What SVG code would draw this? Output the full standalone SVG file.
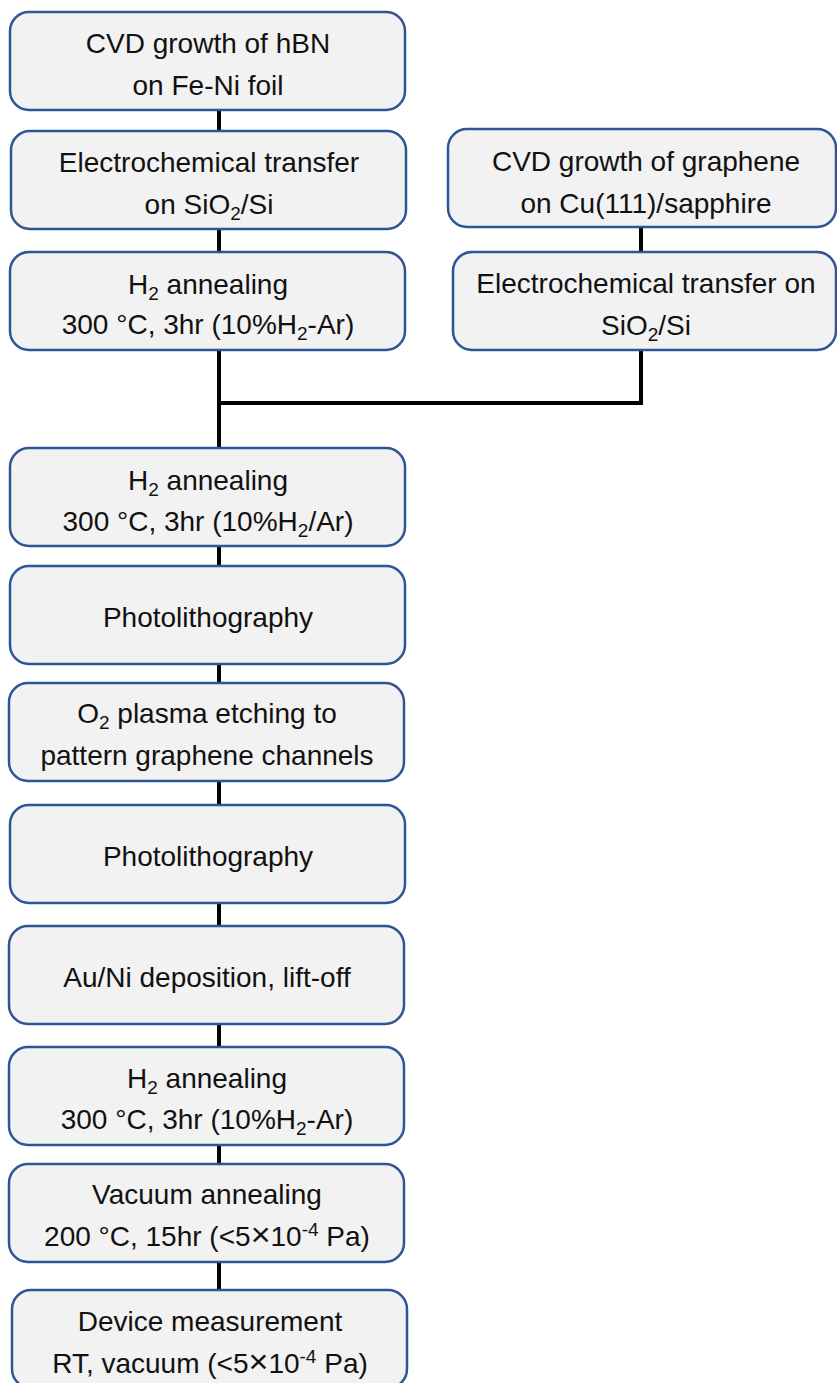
<svg xmlns="http://www.w3.org/2000/svg" width="837" height="1383" viewBox="0 0 837 1383">
  <style>
    .box { fill: #f2f2f2; stroke: #2f5597; stroke-width: 2.5; }
    .lbl { font-family: "Liberation Sans", Arial, sans-serif; font-size: 28px; fill: #111; text-anchor: middle; }
    .sub { font-size: 19px; }
    .sup { font-size: 19px; }
    .times { font-size: 34px; }
    .wire { fill: none; stroke: #000; stroke-width: 4; stroke-linejoin: miter; }
  </style>
  <rect width="837" height="1383" fill="#fff"/>

  <!-- connectors -->
  <g id="connectors" class="wire">
    <path d="M219 110 V131"/>
    <path d="M219 229 V252"/>
    <path d="M219 350 V448"/>
    <path d="M641 227 V252"/>
    <path d="M641 350 V403 H219"/>
    <path d="M219 546 V566"/>
    <path d="M219 664 V683"/>
    <path d="M219 781 V805"/>
    <path d="M219 903 V926"/>
    <path d="M219 1024 V1047"/>
    <path d="M219 1145 V1164"/>
    <path d="M219 1262 V1290"/>
  </g>

  <!-- hBN branch -->
  <g id="hbn-growth">
    <rect class="box" x="10" y="12" width="395" height="98" rx="19"/>
    <text class="lbl" x="208" y="53">CVD growth of hBN</text>
    <text class="lbl" x="208" y="95">on Fe-Ni foil</text>
  </g>
  <g id="hbn-transfer">
    <rect class="box" x="11" y="131" width="395" height="98" rx="19"/>
    <text class="lbl" x="209" y="172">Electrochemical transfer</text>
    <text class="lbl" x="209" y="214">on SiO<tspan class="sub" dy="6">2</tspan><tspan dy="-6">/Si</tspan></text>
  </g>
  <g id="hbn-anneal">
    <rect class="box" x="10" y="252" width="395" height="98" rx="19"/>
    <text class="lbl" x="208" y="294">H<tspan class="sub" dy="6">2</tspan><tspan dy="-6"> annealing</tspan></text>
    <text class="lbl" x="208" y="334">300 °C, 3hr (10%H<tspan class="sub" dy="6">2</tspan><tspan dy="-6">-Ar)</tspan></text>
  </g>

  <!-- graphene branch -->
  <g id="graphene-growth">
    <rect class="box" x="448" y="129" width="388" height="98" rx="19"/>
    <text class="lbl" x="646" y="171">CVD growth of graphene</text>
    <text class="lbl" x="646" y="213">on Cu(111)/sapphire</text>
  </g>
  <g id="graphene-transfer">
    <rect class="box" x="453" y="252" width="383" height="98" rx="19"/>
    <text class="lbl" x="646" y="293">Electrochemical transfer on</text>
    <text class="lbl" x="646" y="335">SiO<tspan class="sub" dy="6">2</tspan><tspan dy="-6">/Si</tspan></text>
  </g>

  <!-- device process -->
  <g id="stack-anneal">
    <rect class="box" x="10" y="448" width="395" height="98" rx="19"/>
    <text class="lbl" x="208" y="490">H<tspan class="sub" dy="6">2</tspan><tspan dy="-6"> annealing</tspan></text>
    <text class="lbl" x="208" y="531">300 °C, 3hr (10%H<tspan class="sub" dy="6">2</tspan><tspan dy="-6">/Ar)</tspan></text>
  </g>
  <g id="litho-1">
    <rect class="box" x="10" y="566" width="395" height="98" rx="19"/>
    <text class="lbl" x="208" y="627">Photolithography</text>
  </g>
  <g id="plasma-etch">
    <rect class="box" x="9" y="683" width="395" height="98" rx="19"/>
    <text class="lbl" x="207" y="723">O<tspan class="sub" dy="6">2</tspan><tspan dy="-6"> plasma etching to</tspan></text>
    <text class="lbl" x="207" y="765">pattern graphene channels</text>
  </g>
  <g id="litho-2">
    <rect class="box" x="10" y="805" width="395" height="98" rx="19"/>
    <text class="lbl" x="208" y="866">Photolithography</text>
  </g>
  <g id="metal-deposition">
    <rect class="box" x="9" y="926" width="395" height="98" rx="19"/>
    <text class="lbl" x="207" y="987">Au/Ni deposition, lift-off</text>
  </g>
  <g id="contact-anneal">
    <rect class="box" x="9" y="1047" width="395" height="98" rx="19"/>
    <text class="lbl" x="207" y="1088">H<tspan class="sub" dy="6">2</tspan><tspan dy="-6"> annealing</tspan></text>
    <text class="lbl" x="207" y="1129">300 °C, 3hr (10%H<tspan class="sub" dy="6">2</tspan><tspan dy="-6">-Ar)</tspan></text>
  </g>
  <g id="vacuum-anneal">
    <rect class="box" x="9" y="1164" width="395" height="98" rx="19"/>
    <text class="lbl" x="207" y="1204">Vacuum annealing</text>
    <text class="lbl" x="207" y="1246">200 °C, 15hr (&lt;5<tspan class="times">×</tspan>10<tspan class="sup" dy="-10">-4</tspan><tspan dy="10"> Pa)</tspan></text>
  </g>
  <g id="measurement">
    <rect class="box" x="12" y="1290" width="395" height="98" rx="19"/>
    <text class="lbl" x="210" y="1331">Device measurement</text>
    <text class="lbl" x="210" y="1373">RT, vacuum (&lt;5<tspan class="times">×</tspan>10<tspan class="sup" dy="-10">-4</tspan><tspan dy="10"> Pa)</tspan></text>
  </g>
</svg>
